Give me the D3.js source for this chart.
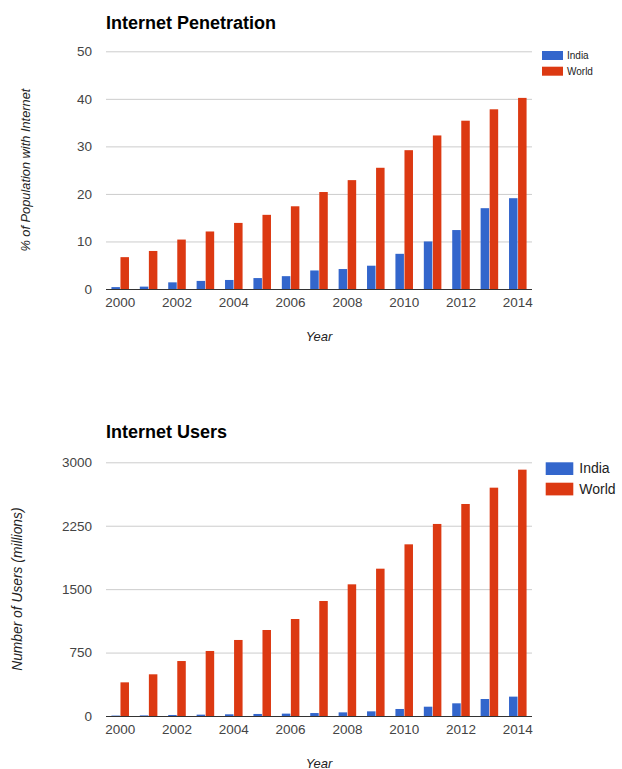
<!DOCTYPE html>
<html><head><meta charset="utf-8">
<script src="https://cdn.jsdelivr.net/npm/d3@7"></script>
<style>body{margin:0;background:#fff}svg{display:block}text{font-family:"Liberation Sans",Arial,sans-serif}</style>
</head><body><svg id="c" width="622" height="769"></svg>
<script>
const years = ["2000","2001","2002","2003","2004","2005","2006","2007","2008","2009","2010","2011","2012","2013","2014"];
const seriesNames = ["India","World"];
const penIndia = [0.4,0.5,1.4,1.7,1.9,2.3,2.7,3.9,4.2,4.9,7.4,10.0,12.4,17.0,19.1];
const penWorld = [6.7,8.0,10.4,12.1,13.9,15.6,17.4,20.4,22.9,25.5,29.2,32.3,35.4,37.8,40.2];
const usersIndia = [5,7,12,16,20,24,28,35,43,55,83,110,150,201,229];
const usersWorld = [398,493,650,769,899,1017,1147,1360,1557,1742,2030,2271,2507,2700,2913];
const penTicks = [0,10,20,30,40,50];
const usersTicks = [0,750,1500,2250,3000];
const xTickLabels = ["2000","2002","2004","2006","2008","2010","2012","2014"];
const colors = ["#3366cc","#dc3912"];

const svg = d3.select("#c");

function chart(o){
  const g = svg.append("g");
  const x = d3.scaleBand().domain(years).range([106,532]).paddingInner(0.382).paddingOuter(0.191);
  const x1 = d3.scaleBand().domain(seriesNames).range([0,x.bandwidth()]).paddingInner(0.06);
  const y = d3.scaleLinear().domain([0,o.max]).range([o.bottom,o.top]);
  // grid
  const ga = g.append("g").attr("transform","translate(106,0)")
    .call(d3.axisLeft(y).tickValues(o.ticks).tickSize(-426).tickPadding(14).tickFormat(d3.format("d")));
  ga.select(".domain").remove();
  ga.selectAll(".tick line").attr("stroke","#cccccc");
  ga.selectAll(".tick text").attr("fill","#444").style("font-size","13.5px").style("font-family","Liberation Sans, Arial");
  // bars
  const data = years.map((yr,i)=>({yr, vals:[o.a[i],o.b[i]]}));
  g.selectAll("g.grp").data(data).join("g").attr("class","grp")
    .attr("transform",d=>`translate(${x(d.yr)},0)`)
    .selectAll("rect").data(d=>d.vals.map((v,k)=>({k,v}))).join("rect")
    .attr("x",d=>x1(seriesNames[d.k])).attr("width",x1.bandwidth())
    .attr("y",d=>y(d.v)).attr("height",d=>y(0)-y(d.v))
    .attr("fill",d=>colors[d.k]);
  // baseline + x axis
  const xa = g.append("g").attr("transform",`translate(0,${o.bottom})`)
    .call(d3.axisBottom(x).tickValues(xTickLabels).tickSize(0).tickPadding(8));
  xa.select(".domain").attr("stroke","#333").attr("d","M106,0.5H532");
  xa.selectAll(".tick text").attr("fill","#444").style("font-size","13.5px").style("font-family","Liberation Sans, Arial").attr("dy","0.71em");
  // titles
  g.append("text").attr("x",106).attr("y",o.titleY).text(o.title)
    .style("font-size","18px").style("font-weight","bold").attr("fill","#000");
  g.append("text").attr("x",319).attr("y",o.bottom+52).attr("text-anchor","middle")
    .style("font-size","13px").style("font-style","italic").attr("fill","#222").text("Year");
  g.append("text").attr("transform",`translate(${o.ytX},${(o.top+o.bottom)/2}) rotate(-90)`)
    .attr("text-anchor","middle").style("font-size",o.ytSize+"px").style("font-style","italic").attr("fill","#222").text(o.ytitle);
  // legend
  const L = o.leg;
  seriesNames.forEach((s,k)=>{
    g.append("rect").attr("x",L.x).attr("y",L.y+k*L.dy).attr("width",L.w).attr("height",L.h).attr("fill",colors[k]);
    g.append("text").attr("x",L.x+L.w+L.gap).attr("y",L.y+k*L.dy+L.base).style("font-size",L.fs+"px").attr("fill","#222").text(s);
  });
}

chart({a:penIndia,b:penWorld,max:50,ticks:penTicks,top:51.3,bottom:289,title:"Internet Penetration",titleY:29.3,
  ytitle:"% of Population with Internet",ytX:30,ytSize:12.8,
  leg:{x:542,y:51,w:21,h:9,dy:15.7,gap:4,base:8.3,fs:10}});
chart({a:usersIndia,b:usersWorld,max:3000,ticks:usersTicks,top:462.3,bottom:716,title:"Internet Users",titleY:438.3,
  ytitle:"Number of Users (millions)",ytX:22,ytSize:13.8,
  leg:{x:545.7,y:462.3,w:27.6,h:12.7,dy:20.4,gap:6,base:11,fs:14}});
</script></body></html>
